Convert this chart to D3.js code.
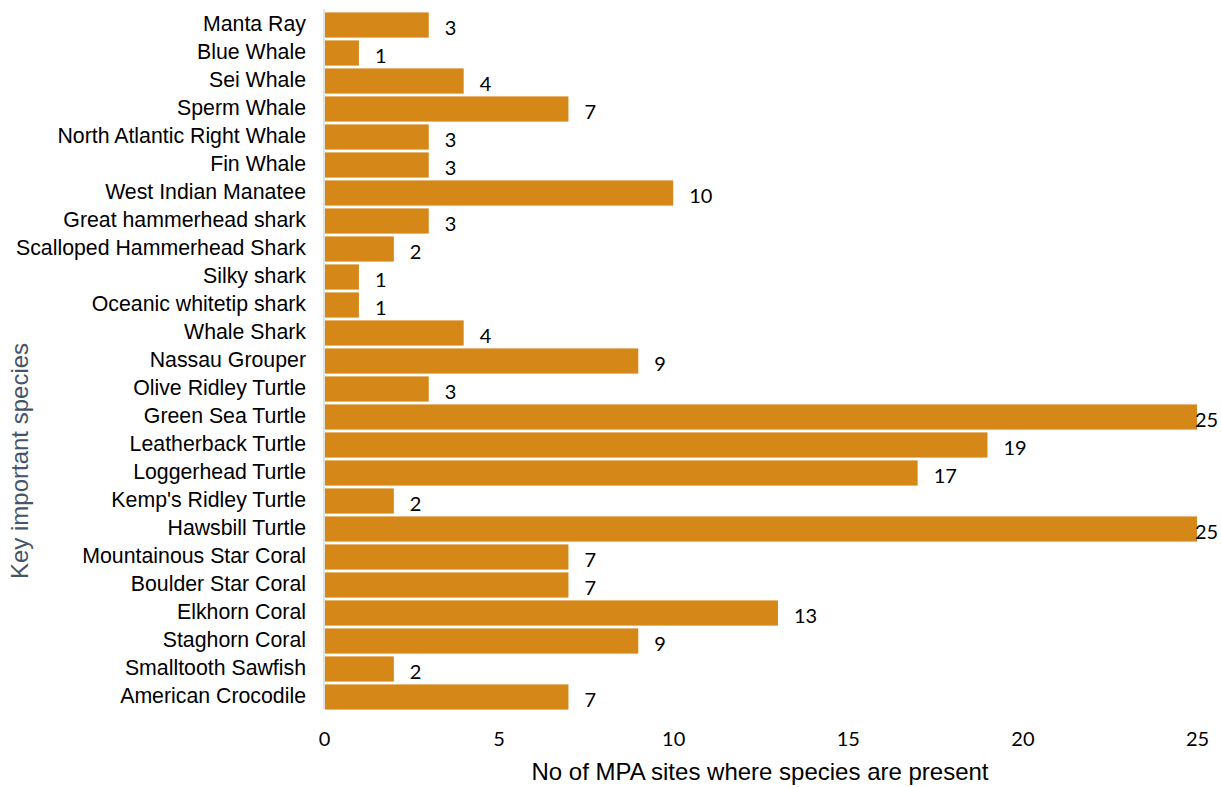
<!DOCTYPE html>
<html lang="en">
<head>
    <meta charset="UTF-8">
    <title>Key important species</title>
    <script src="https://d3js.org/d3.v7.min.js"></script>
    <style>
        body { margin: 0; background: #fff; }
        .cat { font-family: "Liberation Sans", Arial, sans-serif; font-size: 21.3px; fill: #000; }
        .val { font-family: "Lato", "Open Sans", sans-serif; font-size: 20px; fill: #000; }
        .xaxis text { font-family: "Lato", "Open Sans", sans-serif; font-size: 20px; fill: #000; }
        .title { font-family: "Liberation Sans", Arial, sans-serif; font-size: 24px; }
    </style>
</head>
<body>
<svg id="chart"></svg>
<script>
    const species = ["Manta Ray", "Blue Whale ", "Sei Whale", "Sperm Whale", "North Atlantic Right Whale",
        "Fin Whale", "West Indian Manatee", "Great hammerhead shark", "Scalloped Hammerhead Shark",
        "Silky shark", "Oceanic whitetip shark", "Whale Shark", "Nassau Grouper", "Olive Ridley Turtle",
        "Green Sea Turtle ", "Leatherback Turtle", "Loggerhead Turtle", "Kemp's Ridley Turtle",
        "Hawsbill Turtle", "Mountainous Star Coral", "Boulder Star Coral", "Elkhorn Coral",
        "Staghorn Coral", "Smalltooth Sawfish", "American Crocodile"];
    const sites = [3, 1, 4, 7, 3, 3, 10, 3, 2, 1, 1, 4, 9, 3, 25, 19, 17, 2, 25, 7, 7, 13, 9, 2, 7];
    const xTicks = [0, 5, 10, 15, 20, 25];

    const width = 1222, height = 787;
    const margin = {top: 11, left: 324, right: 25, bottom: 76};

    const svg = d3.select("#chart").attr("width", width).attr("height", height);

    const x = d3.scaleLinear().domain([0, 25]).range([margin.left, width - margin.right]);
    const y = d3.scaleBand().domain(species)
        .range([margin.top, margin.top + 28 * species.length])
        .paddingInner(0.1).paddingOuter(0.05);

    // bars
    svg.append("g").selectAll("rect")
        .data(species)
        .enter()
        .append("rect")
        .attr("x", x(0) + 1)
        .attr("y", d => y(d))
        .attr("width", (d, i) => x(sites[i]) - x(0) - 1)
        .attr("height", y.bandwidth())
        .attr("fill", "#d58817");

    // vertical axis line
    svg.append("line")
        .attr("x1", x(0)).attr("x2", x(0))
        .attr("y1", margin.top - 2).attr("y2", margin.top + 28 * species.length - 2)
        .attr("stroke", "#d9d9d9").attr("stroke-width", 1.5);

    // category labels
    svg.append("g").selectAll("text")
        .data(species)
        .enter()
        .append("text")
        .attr("class", "cat")
        .attr("x", x(0) - 18)
        .attr("y", d => y(d) + y.bandwidth() / 2 - 1)
        .attr("dy", "0.35em")
        .attr("text-anchor", "end")
        .text(d => d);

    // value labels
    svg.append("g").selectAll("text")
        .data(sites)
        .enter()
        .append("text")
        .attr("class", "val")
        .attr("x", d => Math.min(x(d) + 16, x(25) - 2))
        .attr("y", (d, i) => y(species[i]) + y.bandwidth() / 2 + 3)
        .attr("dy", "0.35em")
        .text(d => d);

    // x axis (labels only)
    const xAxis = svg.append("g")
        .attr("class", "xaxis")
        .attr("transform", `translate(0,${height - margin.bottom})`)
        .call(d3.axisBottom(x).tickValues(xTicks).tickSize(0).tickPadding(21));
    xAxis.select(".domain").remove();
    xAxis.attr("font-size", null).attr("font-family", null);

    svg.append("text")
        .attr("class", "title")
        .attr("x", 760)
        .attr("y", 780)
        .attr("text-anchor", "middle")
        .attr("fill", "#000")
        .text("No of MPA sites where species are present");

    svg.append("text")
        .attr("class", "title")
        .attr("transform", "translate(28,461) rotate(-90)")
        .attr("text-anchor", "middle")
        .attr("fill", "#44546a")
        .text("Key important species");
</script>
</body>
</html>
